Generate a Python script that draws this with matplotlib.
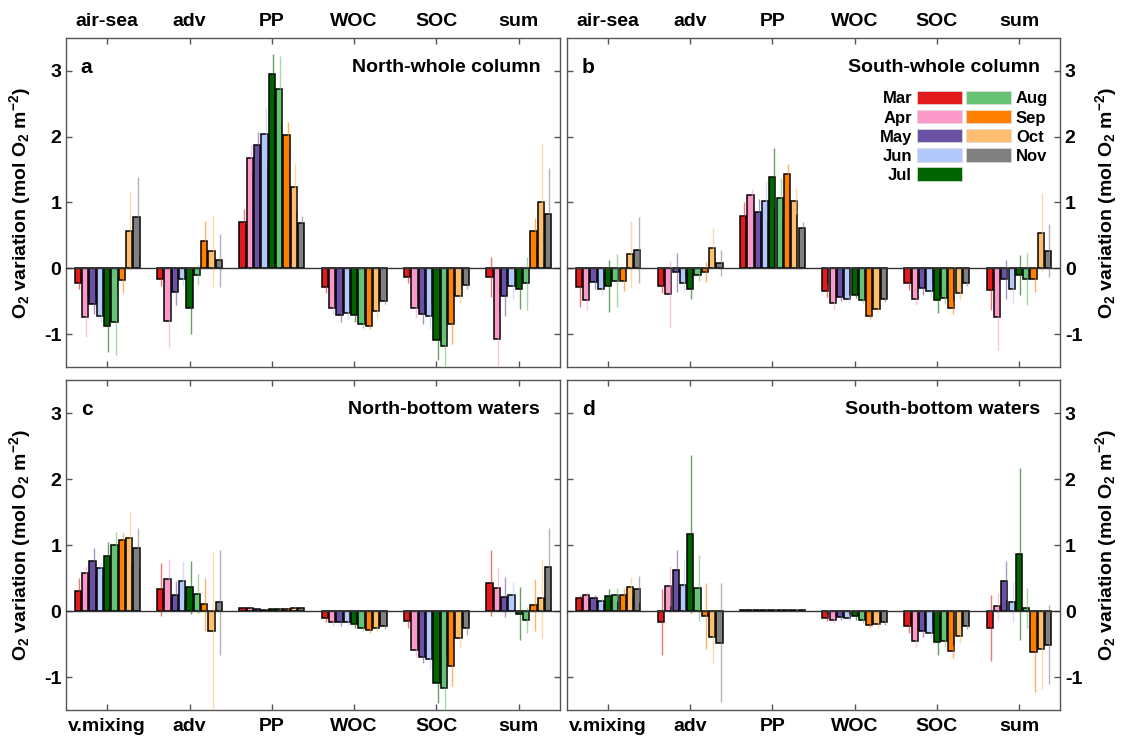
import matplotlib
matplotlib.use("Agg")
import matplotlib.pyplot as plt
from matplotlib.patches import Patch
import numpy as np

plt.rcParams['font.family'] = ['Liberation Sans', 'DejaVu Sans']
plt.rcParams['font.weight'] = 'bold'
plt.rcParams['axes.unicode_minus'] = False
plt.rcParams['mathtext.fontset'] = 'custom'
plt.rcParams['mathtext.rm'] = 'Liberation Sans:bold'
plt.rcParams['mathtext.bf'] = 'Liberation Sans:bold'
plt.rcParams['mathtext.default'] = 'bf'

months = ['Mar', 'Apr', 'May', 'Jun', 'Jul', 'Aug', 'Sep', 'Oct', 'Nov']
colors = ['#e31a1c', '#fb9ac8', '#6a51a3', '#b3c9fb', '#006400',
          '#66c275', '#ff7f00', '#fdbf6f', '#808080']
groups_top = ['air-sea', 'adv', 'PP', 'WOC', 'SOC', 'sum']
groups_bot = ['v.mixing', 'adv', 'PP', 'WOC', 'SOC', 'sum']

# values (mol O2 m-2), one row per group, one column per month
north_whole = [
    [-0.22, -0.74, -0.54, -0.72, -0.87, -0.82, -0.18, 0.57, 0.78],
    [-0.17, -0.80, -0.36, -0.17, -0.60, -0.10, 0.42, 0.26, 0.12],
    [0.70, 1.67, 1.87, 2.04, 2.95, 2.73, 2.03, 1.24, 0.69],
    [-0.28, -0.60, -0.71, -0.68, -0.71, -0.85, -0.87, -0.65, -0.49],
    [-0.13, -0.60, -0.70, -0.73, -1.09, -1.18, -0.85, -0.42, -0.26],
    [-0.13, -1.08, -0.42, -0.27, -0.32, -0.23, 0.56, 1.00, 0.83],
]
north_whole_err = [
    [0.10, 0.30, 0.15, 0.10, 0.40, 0.50, 0.20, 0.60, 0.60],
    [0.10, 0.40, 0.20, 0.10, 0.40, 0.15, 0.30, 0.55, 0.40],
    [0.20, 0.20, 0.20, 0.40, 0.30, 0.50, 0.20, 0.35, 0.10],
    [0.10, 0.10, 0.10, 0.10, 0.10, 0.05, 0.05, 0.10, 0.05],
    [0.10, 0.15, 0.15, 0.20, 0.30, 0.35, 0.30, 0.10, 0.05],
    [0.30, 0.40, 0.30, 0.20, 0.30, 0.40, 0.20, 0.90, 0.70],
]
south_whole = [
    [-0.29, -0.48, -0.21, -0.31, -0.27, -0.19, -0.20, 0.22, 0.28],
    [-0.27, -0.39, -0.06, -0.23, -0.32, -0.10, -0.06, 0.31, 0.08],
    [0.80, 1.11, 0.85, 1.02, 1.38, 1.07, 1.43, 1.02, 0.61],
    [-0.34, -0.53, -0.44, -0.46, -0.40, -0.48, -0.72, -0.62, -0.46],
    [-0.23, -0.46, -0.30, -0.34, -0.48, -0.45, -0.60, -0.38, -0.22],
    [-0.33, -0.74, -0.17, -0.32, -0.10, -0.16, -0.16, 0.54, 0.27],
]
south_whole_err = [
    [0.30, 0.15, 0.10, 0.10, 0.40, 0.40, 0.15, 0.50, 0.50],
    [0.10, 0.50, 0.30, 0.10, 0.15, 0.10, 0.15, 0.30, 0.20],
    [0.20, 0.10, 0.20, 0.30, 0.45, 0.30, 0.15, 0.20, 0.10],
    [0.10, 0.10, 0.05, 0.05, 0.05, 0.05, 0.05, 0.05, 0.05],
    [0.10, 0.10, 0.10, 0.10, 0.20, 0.10, 0.10, 0.10, 0.05],
    [0.30, 0.50, 0.30, 0.20, 0.30, 0.40, 0.20, 0.60, 0.40],
]
north_bottom = [
    [0.30, 0.58, 0.76, 0.65, 0.84, 1.00, 1.08, 1.11, 0.96],
    [0.33, 0.49, 0.25, 0.46, 0.36, 0.26, 0.10, -0.30, 0.13],
    [0.045, 0.05, 0.03, 0.02, 0.03, 0.03, 0.03, 0.05, 0.04],
    [-0.11, -0.17, -0.17, -0.17, -0.20, -0.26, -0.29, -0.26, -0.22],
    [-0.15, -0.59, -0.69, -0.73, -1.09, -1.17, -0.84, -0.41, -0.26],
    [0.43, 0.35, 0.21, 0.24, -0.04, -0.14, 0.09, 0.19, 0.66],
]
north_bottom_err = [
    [0.20, 0.10, 0.20, 0.10, 0.20, 0.20, 0.10, 0.40, 0.30],
    [0.40, 0.30, 0.20, 0.30, 0.40, 0.30, 0.40, 1.20, 0.80],
    [0.01, 0.01, 0.01, 0.01, 0.01, 0.01, 0.01, 0.01, 0.01],
    [0.05, 0.05, 0.05, 0.05, 0.05, 0.05, 0.05, 0.05, 0.05],
    [0.10, 0.10, 0.10, 0.15, 0.30, 0.50, 0.30, 0.15, 0.10],
    [0.50, 0.30, 0.30, 0.20, 0.40, 0.20, 0.40, 0.60, 0.60],
]
south_bottom = [
    [0.20, 0.24, 0.20, 0.15, 0.23, 0.25, 0.25, 0.37, 0.33],
    [-0.17, 0.38, 0.62, 0.39, 1.17, 0.35, -0.08, -0.40, -0.48],
    [0.02, 0.02, 0.02, 0.02, 0.02, 0.02, 0.02, 0.02, 0.02],
    [-0.10, -0.13, -0.09, -0.10, -0.08, -0.13, -0.21, -0.20, -0.16],
    [-0.23, -0.45, -0.30, -0.33, -0.47, -0.45, -0.61, -0.38, -0.23],
    [-0.25, 0.07, 0.46, 0.14, 0.86, 0.05, -0.62, -0.58, -0.51],
]
south_bottom_err = [
    [0.05, 0.05, 0.05, 0.05, 0.10, 0.10, 0.10, 0.15, 0.20],
    [0.50, 0.30, 0.30, 0.40, 1.20, 0.50, 0.50, 0.40, 0.90],
    [0.01, 0.01, 0.01, 0.01, 0.01, 0.01, 0.01, 0.01, 0.01],
    [0.05, 0.05, 0.05, 0.05, 0.05, 0.05, 0.05, 0.05, 0.05],
    [0.10, 0.10, 0.10, 0.10, 0.20, 0.10, 0.10, 0.10, 0.05],
    [0.50, 0.20, 0.30, 0.30, 1.30, 0.30, 0.60, 0.60, 0.60],
]

panels = [
    ('a', 'North-whole column', north_whole, north_whole_err, groups_top),
    ('b', 'South-whole column', south_whole, south_whole_err, groups_top),
    ('c', 'North-bottom waters', north_bottom, north_bottom_err, groups_bot),
    ('d', 'South-bottom waters', south_bottom, south_bottom_err, groups_bot),
]

fig = plt.figure(figsize=(11.22, 7.42), dpi=100)
W, H = 1122, 742
boxes = [(66, 38, 560, 367), (567, 38, 1060, 367),
         (66, 380, 560, 710), (567, 380, 1060, 710)]

ylab = r'O$_2$ variation (mol O$_2$ m$^{-2}$)'
step = 0.089
width = 0.075
axes = []
for k, (letter, title, vals, errs, glabels) in enumerate(panels):
    x0, y0, x1, y1 = boxes[k]
    ax = fig.add_axes([x0 / W, 1 - y1 / H, (x1 - x0) / W, (y1 - y0) / H])
    axes.append(ax)
    vals = np.array(vals)
    errs = np.array(errs)
    gx = np.arange(1, 7)
    for j in range(9):
        xs = gx + (j - 4) * step
        ax.bar(xs, vals[:, j], width=width, color=colors[j],
               edgecolor='black', linewidth=1.1, zorder=2, label=months[j])
        ax.vlines(xs + 0.015, vals[:, j] - errs[:, j], vals[:, j] + errs[:, j],
                  color=colors[j], linewidth=1.0, alpha=0.6, zorder=3)
    ax.axhline(0, color='#333333', linewidth=1.0, zorder=4)
    ax.set_xlim(0.5, 6.5)
    ax.set_ylim(-1.5, 3.5)
    ax.set_xticks(gx)
    ax.set_yticks([-1, 0, 1, 2, 3])
    ax.tick_params(direction='in', length=4, width=1, top=True, bottom=True,
                   left=True, right=True, labelsize=14, color='#555555',
                   labelcolor='black')
    for sp in ax.spines.values():
        sp.set_color('#555555')
        sp.set_linewidth(1.0)
    if k < 2:
        ax.tick_params(axis='x', labeltop=True, labelbottom=False, labelsize=14, pad=6)
    else:
        ax.tick_params(axis='x', labeltop=False, labelbottom=True, labelsize=14, pad=6)
    ax.set_xticklabels(glabels, fontweight='bold')
    if k % 2 == 0:
        ax.tick_params(axis='y', labelleft=True, labelright=False)
    else:
        ax.tick_params(axis='y', labelleft=False, labelright=True)
        ax.yaxis.set_label_position('right')
    ax.set_ylabel(ylab, fontsize=14, fontweight='bold', rotation=90, labelpad=8)
    for t in ax.get_yticklabels():
        t.set_fontweight('bold')
    ax.text(0.03, 0.91, letter, transform=ax.transAxes, fontsize=15,
            fontweight='bold', va='center', ha='left')
    ax.text(0.96, 0.91, title, transform=ax.transAxes, fontsize=14,
            fontweight='bold', va='center', ha='right')

# legend in panel b: two columns
axb = axes[1]
ph = [Patch(facecolor=c, edgecolor='#dddddd', linewidth=0.5) for c in colors]
leg1 = axb.legend(ph[:5], months[:5], loc='upper right',
                  bbox_to_anchor=((962 - 567) / 493, 1 - (91 - 38) / 329),
                  frameon=False, markerfirst=False, fontsize=12,
                  handlelength=2.7, handleheight=0.85, labelspacing=0.22,
                  handletextpad=0.3, borderpad=0, borderaxespad=0)
axb.add_artist(leg1)
leg2 = axb.legend(ph[5:], months[5:], loc='upper left',
                  bbox_to_anchor=((966 - 567) / 493, 1 - (91 - 38) / 329),
                  frameon=False, markerfirst=True, fontsize=12,
                  handlelength=2.7, handleheight=0.85, labelspacing=0.22,
                  handletextpad=0.3, borderpad=0, borderaxespad=0)

fig.savefig('out.png', dpi=100)
